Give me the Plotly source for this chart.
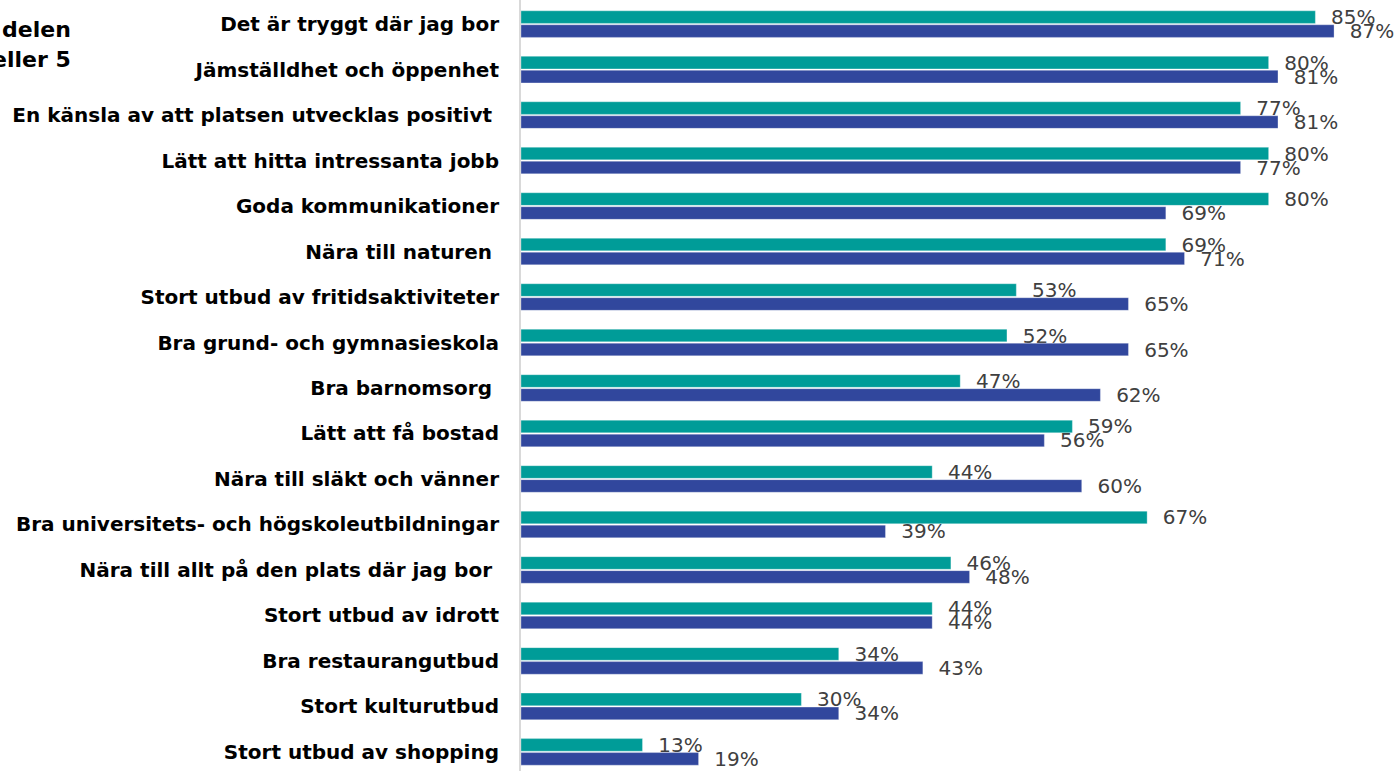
import plotly.graph_objects as go

# Kategorier (uppifrån och ned)
categories = [
    "Det är tryggt där jag bor",
    "Jämställdhet och öppenhet",
    "En känsla av att platsen utvecklas positivt ",
    "Lätt att hitta intressanta jobb",
    "Goda kommunikationer",
    "Nära till naturen ",
    "Stort utbud av fritidsaktiviteter",
    "Bra grund- och gymnasieskola",
    "Bra barnomsorg ",
    "Lätt att få bostad",
    "Nära till släkt och vänner",
    "Bra universitets- och högskoleutbildningar",
    "Nära till allt på den plats där jag bor ",
    "Stort utbud av idrott",
    "Bra restaurangutbud",
    "Stort kulturutbud",
    "Stort utbud av shopping",
]

# Andel (%) som svarat 4 eller 5
series_teal = [85, 80, 77, 80, 80, 69, 53, 52, 47, 59, 44, 67, 46, 44, 34, 30, 13]
series_blue = [87, 81, 81, 77, 69, 71, 65, 65, 62, 56, 60, 39, 48, 44, 43, 34, 19]

title_lines = ["delen", "eller 5"]

TEAL = "#009C98"
BLUE = "#31479D"
FONT = "DejaVu Sans, Liberation Sans, Arial, sans-serif"

fig = go.Figure()

for vals, color in [(series_teal, TEAL), (series_blue, BLUE)]:
    fig.add_trace(go.Bar(
        x=vals,
        y=categories,
        orientation="h",
        marker=dict(color=color, line=dict(color="rgba(255,255,255,0.6)", width=0.5)),
        text=vals,
        texttemplate="\u00a0\u00a0%{x}%",
        textposition="outside",
        constraintext="none",
        textfont=dict(family=FONT, size=20, color="#404040"),
        cliponaxis=False,
        showlegend=False,
        hoverinfo="skip",
    ))

fig.update_layout(
    width=1399,
    height=771,
    margin=dict(l=521, r=0, t=0, b=0),
    paper_bgcolor="white",
    plot_bgcolor="white",
    barmode="group",
    bargap=0.385,
    bargroupgap=0.1,
    font=dict(family=FONT),
)

fig.update_xaxes(
    range=[0, 93.95],
    showgrid=False,
    zeroline=False,
    showticklabels=False,
    showline=False,
)

fig.update_yaxes(
    range=[16.42, -0.53],
    showgrid=False,
    zeroline=False,
    showline=True,
    linecolor="#d9d9d9",
    linewidth=2,
    ticks="",
    automargin=False,
    ticklabelstandoff=16,
    tickfont=dict(family=FONT, size=20, color="black", weight="bold"),
)

# Avklippt rubrik uppe till vänster
for i, line in enumerate(title_lines):
    fig.add_annotation(
        text=line,
        xref="paper", yref="paper",
        x=(73 - 521) / 878, y=1 - (30 + 30 * i) / 771,
        xanchor="right", yanchor="middle",
        showarrow=False,
        font=dict(family=FONT, size=22, color="black", weight="bold"),
    )

# ta bort sidans standardmarginal så att diagrammet fyller fönstret
fig.write_html(
    "out.html",
    config={"displayModeBar": False},
    post_script="document.body.style.margin = '0';",
)
